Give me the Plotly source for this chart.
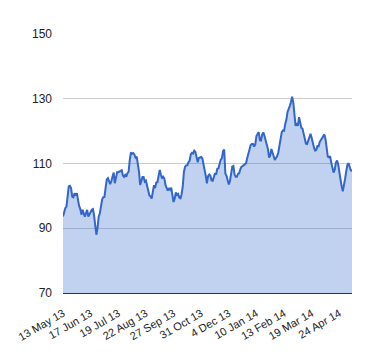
import plotly.graph_objects as go

# Daily values (index = trading day from 13 May 2013)
values = [
    93.6, 95.3, 96.2, 96.7, 100.5, 102.9, 103.1, 102.4, 99.8, 99.6,
    100.8, 100.1, 100.8, 98.4, 96.9, 96.0, 94.2, 95.7, 94.9, 93.6,
    94.7, 95.7, 93.6, 94.4, 95.2, 95.7, 95.9, 94.0, 90.8, 88.0,
    90.2, 93.6, 94.6, 96.8, 98.9, 99.6, 99.7, 102.5, 105.1, 105.5,
    104.1, 103.6, 104.6, 106.3, 107.2, 103.9, 105.2, 107.3, 107.3, 107.6,
    107.6, 107.9, 106.3, 105.9, 106.5, 105.9, 107.0, 107.5, 111.1, 113.4,
    113.0, 113.2, 112.8, 111.8, 112.1, 110.3, 107.5, 103.4, 105.0, 105.8,
    105.8, 104.4, 104.7, 103.3, 101.6, 100.2, 99.8, 99.2, 101.2, 103.3,
    102.4, 104.1, 104.2, 106.7, 108.0, 106.6, 105.4, 105.9, 105.4, 103.4,
    102.7, 101.6, 102.4, 101.9, 102.5, 100.0, 98.1, 99.1, 101.1, 100.3,
    100.6, 99.5, 99.3, 100.5, 102.9, 107.4, 109.0, 109.4, 109.5, 110.4,
    110.9, 112.8, 113.3, 113.1, 114.0, 113.6, 111.7, 110.4, 111.7, 111.9,
    112.0, 111.6, 109.7, 109.0, 106.2, 103.9, 106.1, 106.6, 106.2, 104.8,
    104.7, 105.8, 107.0, 106.6, 108.4, 108.5, 110.5, 111.2, 111.6, 113.8,
    114.3, 106.9, 106.2, 104.9, 103.5, 104.6, 107.8, 109.0, 109.2, 106.6,
    105.9, 105.9, 106.8, 107.0, 108.2, 109.0, 109.2, 109.5, 109.5, 110.1,
    111.7, 113.4, 114.6, 115.7, 116.0, 116.0, 115.2, 115.9, 118.5, 119.0,
    119.7, 117.2, 117.1, 119.0, 119.6, 118.5, 116.9, 116.2, 114.4, 111.8,
    112.5, 114.5, 113.2, 111.7, 111.1, 111.7, 112.3, 113.4, 115.8, 117.9,
    119.7, 120.2, 120.1, 122.2, 123.5, 125.9, 126.7, 127.8, 129.0, 130.6,
    128.9, 125.5, 121.6, 122.5, 121.6, 124.3, 122.0, 121.0, 120.8, 119.0,
    117.2, 116.1, 116.0, 117.2, 118.4, 119.2, 117.9, 116.1, 114.9, 114.0,
    114.2, 115.4, 115.3, 116.7, 117.3, 117.9, 118.8, 119.0, 117.5, 114.3,
    112.1, 111.9, 112.3, 110.2, 108.8, 107.2, 108.1, 110.3, 110.9, 109.8,
    107.4, 104.8, 103.0, 101.4, 102.9, 105.3, 107.6, 109.6, 110.1, 109.0,
    107.8, 107.8,
]
x_index = list(range(len(values)))

tick_positions = [0, 24, 48, 72, 96, 120, 144, 168, 192, 216, 240]
tick_labels = ["13 May 13", "17 Jun 13", "19 Jul 13", "22 Aug 13", "27 Sep 13",
               "31 Oct 13", "4 Dec 13", "10 Jan 14", "13 Feb 14", "19 Mar 14",
               "24 Apr 14"]
y_ticks = [70, 90, 110, 130, 150]

fig = go.Figure()
fig.add_trace(go.Scatter(
    x=x_index, y=values, mode="lines",
    line=dict(color="#3366cc", width=2),
    fill="tozeroy", fillcolor="rgba(51,102,204,0.3)",
    hoverinfo="skip", showlegend=False,
))

font = dict(family="Arial, 'Liberation Sans', sans-serif", size=12, color="#222222")
xfont = dict(family="Arial, 'Liberation Sans', sans-serif", size=11, color="#222222")
fig.update_layout(
    width=380, height=360,
    margin=dict(l=55, r=36, t=26, b=75),
    paper_bgcolor="white", plot_bgcolor="white",
    font=font,
    xaxis=dict(
        range=[0, len(values) - 1],
        tickmode="array", tickvals=tick_positions, ticktext=tick_labels,
        tickangle=-30, showgrid=False, zeroline=False,
        showline=True, linecolor="#333333", linewidth=1,
        ticks="", ticklabelstandoff=9,
        tickfont=xfont, automargin=False,
    ),
    yaxis=dict(
        range=[70, 150],
        tickmode="array", tickvals=y_ticks,
        showgrid=True, gridcolor="#cccccc", gridwidth=1,
        zeroline=False, showline=False, ticks="",
        ticklabelstandoff=10,
        tickfont=font, automargin=False,
    ),
)

fig.write_html("out.html")
